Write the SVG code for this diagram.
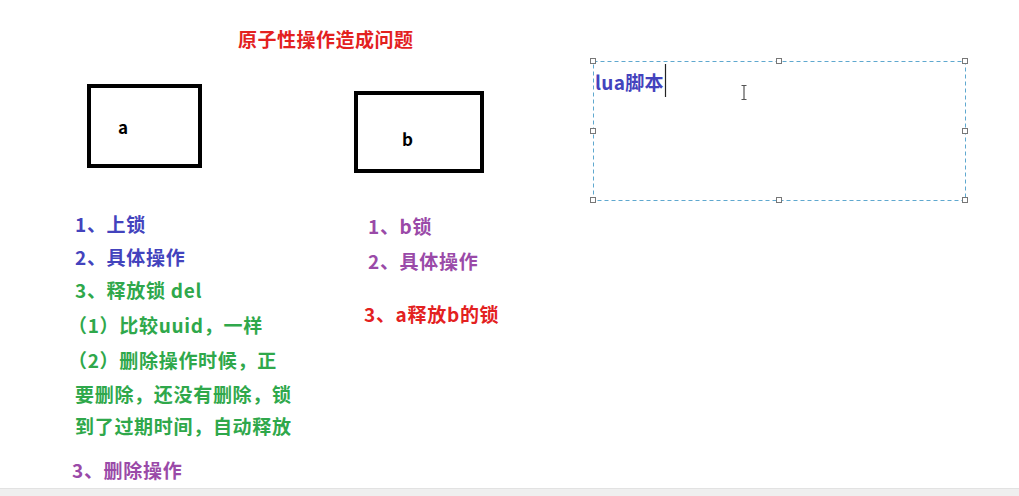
<svg xmlns="http://www.w3.org/2000/svg" width="1019" height="496" viewBox="0 0 1019 496">
<style>
text{font-family:"Noto Sans CJK SC","Noto Sans",sans-serif;font-weight:bold;font-size:19px;letter-spacing:0.7px}
.blue{fill:#4343bd}
.green{fill:#2fa84b}
.purple{fill:#9a4aa8}
.red{fill:#e3211f}
.box{fill:#fff;stroke:#000;stroke-width:4}
.handle{fill:#fff;stroke:#777;stroke-width:1}
</style>
<rect x="0" y="0" width="1019" height="496" fill="#fff"/>
<rect x="0" y="488" width="1019" height="8" fill="#efefef"/>
<line x1="0" y1="488.5" x2="1019" y2="488.5" stroke="#e2e2e2"/>
<g id="title"><text x="238" y="47" class="red" style="letter-spacing:0.5px">原子性操作造成问题</text></g>
<g id="node-a">
<rect class="box" x="89" y="86" width="111" height="80"/>
<text x="118" y="134" fill="#000" style="font-size:17px">a</text>
</g>
<g id="node-b">
<rect class="box" x="356" y="93" width="126" height="78"/>
<text x="402" y="146" fill="#000" style="font-size:17px">b</text>
</g>
<g id="lua-box">
<rect x="593.5" y="61.5" width="372" height="139" fill="none" stroke="#5fa8cf" stroke-width="1" stroke-dasharray="4,3"/>
<rect class="handle" x="590.5" y="58.5" width="5" height="5"/>
<rect class="handle" x="776.5" y="58.5" width="5" height="5"/>
<rect class="handle" x="962.5" y="58.5" width="5" height="5"/>
<rect class="handle" x="590.5" y="128.5" width="5" height="5"/>
<rect class="handle" x="962.5" y="128.5" width="5" height="5"/>
<rect class="handle" x="590.5" y="197.5" width="5" height="5"/>
<rect class="handle" x="776.5" y="197.5" width="5" height="5"/>
<rect class="handle" x="962.5" y="197.5" width="5" height="5"/>
<text x="595" y="90" class="blue" style="letter-spacing:0.3px">lua脚本</text>
<line x1="665.5" y1="64" x2="665.5" y2="97" stroke="#222" stroke-width="1.2"/>
<path d="M741.5 85.5h5M744 85.5v14M741.5 99.5h5" fill="none" stroke="#555" stroke-width="1.2"/>
</g>
<g id="steps-a">
<text x="75" y="232" class="blue">1、上锁</text>
<text x="75" y="265" class="blue">2、具体操作</text>
<text x="75" y="298" class="green">3、释放锁 del</text>
<text x="68" y="333" class="green">（1）比较uuid，一样</text>
<text x="68" y="368" class="green">（2）删除操作时候，正</text>
<text x="75" y="402" class="green">要删除，还没有删除，锁</text>
<text x="75" y="434" class="green">到了过期时间，自动释放</text>
<text x="72" y="478" class="purple">3、删除操作</text>
</g>
<g id="steps-b">
<text x="368" y="234" class="purple">1、b锁</text>
<text x="368" y="269" class="purple">2、具体操作</text>
<text x="364" y="322" class="red">3、a释放b的锁</text>
</g>
</svg>
